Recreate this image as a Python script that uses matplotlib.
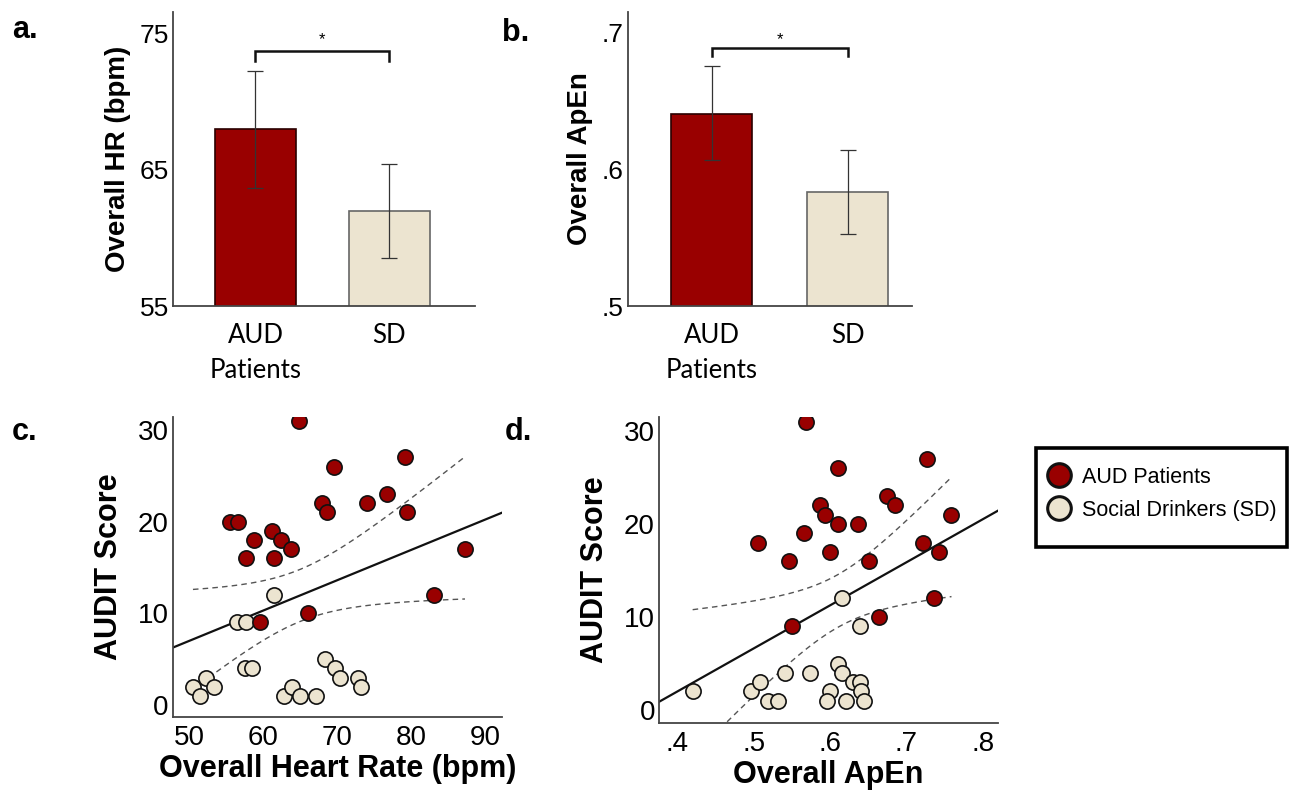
import numpy as np
import matplotlib.pyplot as plt
from matplotlib.lines import Line2D
from matplotlib.patches import Rectangle

plt.rcParams["font.family"] = ["Liberation Sans", "DejaVu Sans"]

# bar panels (a, b)
groups = ["AUD\nPatients", "SD"]
hr_means = [68.0, 62.0]
hr_ci_low = [63.7, 58.5]
hr_ci_high = [72.3, 65.4]
apen_means = [0.641, 0.5835]
apen_ci_low = [0.607, 0.553]
apen_ci_high = [0.676, 0.614]

# panel c: heart rate vs AUDIT
aud_hr = [64.9, 69.6, 79.2, 67.9, 68.7, 74.1, 76.8, 79.4, 55.5, 56.6,
          58.8, 61.2, 62.4, 63.7, 57.7, 61.5, 87.3, 83.1, 66.0, 59.6]
aud_audit_c = [31, 26, 27, 22, 21, 22, 23, 21, 20, 20,
               18, 19, 18, 17, 16, 16, 17, 12, 10, 9]
sd_hr = [61.4, 56.4, 57.7, 57.6, 58.5, 50.5, 52.2, 53.4, 51.5,
         62.8, 63.9, 65.0, 67.2, 68.3, 69.7, 70.4, 72.8, 73.3]
sd_audit_c = [12, 9, 9, 4, 4, 2, 3, 2, 1, 1, 2, 1, 1, 5, 4, 3, 3, 2]

# panel d: ApEn vs AUDIT
aud_apen = [0.568, 0.611, 0.727, 0.587, 0.593, 0.674, 0.685, 0.759, 0.611, 0.636,
            0.566, 0.506, 0.722, 0.546, 0.600, 0.651, 0.743, 0.736, 0.664, 0.550]
aud_audit_d = [31, 26, 27, 22, 21, 23, 22, 21, 20, 20,
               19, 18, 18, 16, 17, 16, 17, 12, 10, 9]
sd_apen = [0.615, 0.639, 0.420, 0.497, 0.508, 0.519, 0.532, 0.541, 0.574,
           0.610, 0.616, 0.630, 0.639, 0.600, 0.640, 0.596, 0.621, 0.644]
sd_audit_d = [12, 9, 2, 2, 3, 1, 1, 4, 4, 5, 4, 3, 3, 2, 2, 1, 1, 1]

RED = "#990000"
BEIGE = "#ECE4D0"
SPINE = "#444444"

fig = plt.figure(figsize=(12.9, 7.97), dpi=100)


def bar_panel(rect, means, lo, hi, ylim, yticks, yticklabels, ylabel, xlim, bracket, star_y):
    ax = fig.add_axes(rect)
    x = np.arange(len(means))
    err = [np.array(means) - np.array(lo), np.array(hi) - np.array(means)]
    ax.bar(x, means, width=0.6, bottom=0, color=[RED, BEIGE],
           edgecolor=["#2a0000", "#666666"], linewidth=1.2, zorder=2)
    ax.errorbar(x, means, yerr=err, fmt="none", ecolor="#333333",
                elinewidth=0.9, capsize=6, capthick=0.9, zorder=3)
    ax.set_ylim(*ylim)
    ax.set_xlim(*xlim)
    ax.set_yticks(yticks)
    ax.set_yticklabels(yticklabels)
    ax.set_xticks(x)
    ax.set_xticklabels(groups, family=["Lato", "DejaVu Sans"], fontsize=18.5,
                       linespacing=1.5)
    ax.tick_params(axis="y", length=0, pad=3, labelsize=19)
    ax.tick_params(axis="x", length=0, pad=12)
    ax.set_ylabel(ylabel, fontsize=20, fontweight="bold", labelpad=6)
    for s in ["top", "right"]:
        ax.spines[s].set_visible(False)
    for s in ["left", "bottom"]:
        ax.spines[s].set_color(SPINE)
        ax.spines[s].set_linewidth(1.3)
    b_top, b_bot = bracket
    ax.plot([0, 0, 1, 1], [b_bot, b_top, b_top, b_bot], color="#111111",
            lw=1.8, solid_joinstyle="miter", clip_on=False)
    ax.text(0.5, star_y, "*", ha="center", va="center", fontsize=12)
    return ax


bar_panel([0.1341, 0.616, 0.234, 0.369], hr_means, hr_ci_low, hr_ci_high,
          (55, 76.6), [55, 65, 75], ["55", "65", "75"], "Overall HR (bpm)",
          (-0.616, 1.638), (73.7, 73.0), 74.6)
bar_panel([0.4868, 0.616, 0.2202, 0.369], apen_means, apen_ci_low, apen_ci_high,
          (0.5, 0.7154), [0.5, 0.6, 0.7], [".5", ".6", ".7"], "Overall ApEn",
          (-0.614, 1.474), (0.689, 0.683), 0.695)


def scatter_panel(rect, ax_aud, ay_aud, ax_sd, ay_sd, xlim, ylim, xticks, xticklabels, xlabel):
    ax = fig.add_axes(rect)
    xs = np.array(ax_aud + ax_sd)
    ys = np.array(ay_aud + ay_sd, dtype=float)
    slope, icpt = np.polyfit(xs, ys, 1)
    n = len(xs)
    resid = ys - (slope * xs + icpt)
    s = np.sqrt(np.sum(resid ** 2) / (n - 2))
    sxx = np.sum((xs - xs.mean()) ** 2)
    xl = np.linspace(xlim[0], xlim[1], 200)
    ax.plot(xl, slope * xl + icpt, color="#111111", lw=1.6, zorder=2)
    xc = np.linspace(xs.min(), xs.max(), 200)
    half = 2.03 * s * np.sqrt(1 / n + (xc - xs.mean()) ** 2 / sxx)
    yc = slope * xc + icpt
    ax.plot(xc, yc + half, color="#555555", lw=1.0, ls=(0, (4, 3)), zorder=2)
    ax.plot(xc, yc - half, color="#555555", lw=1.0, ls=(0, (4, 3)), zorder=2)
    ax.scatter(ax_sd, ay_sd, s=120, color=BEIGE, edgecolor="#111111", linewidth=1.2, zorder=3)
    ax.scatter(ax_aud, ay_aud, s=120, color=RED, edgecolor="#111111", linewidth=1.2, zorder=3)
    ax.set_xlim(*xlim)
    ax.set_ylim(*ylim)
    ax.set_xticks(xticks)
    ax.set_xticklabels(xticklabels)
    ax.set_yticks([0, 10, 20, 30])
    ax.tick_params(length=0, labelsize=20)
    ax.tick_params(axis="y", pad=3)
    ax.tick_params(axis="x", pad=6)
    ax.set_xlabel(xlabel, fontsize=22, fontweight="bold", labelpad=2)
    ax.set_ylabel("AUDIT Score", fontsize=22, fontweight="bold", labelpad=10)
    for sp in ["top", "right"]:
        ax.spines[sp].set_visible(False)
    for sp in ["left", "bottom"]:
        ax.spines[sp].set_color(SPINE)
        ax.spines[sp].set_linewidth(1.3)
    return ax


scatter_panel([0.1341, 0.1004, 0.255, 0.3764], aud_hr, aud_audit_c, sd_hr, sd_audit_c,
              (47.8, 92.3), (-1.3, 31.4), [50, 60, 70, 80, 90],
              ["50", "60", "70", "80", "90"], "Overall Heart Rate (bpm)")
scatter_panel([0.5109, 0.0928, 0.2628, 0.384], aud_apen, aud_audit_d, sd_apen, sd_audit_d,
              (0.376, 0.82), (-1.4, 31.5), [0.4, 0.5, 0.6, 0.7, 0.8],
              [".4", ".5", ".6", ".7", ".8"], "Overall ApEn")

# panel letters
for lx, ly, t in [(12, 30, "a."), (502, 33, "b."), (12, 432, "c."), (505, 432, "d.")]:
    fig.text(lx / 1290, 1 - ly / 797, t, fontsize=22, fontweight="bold", va="center")

# legend: box drawn separately so the padding matches
fig.patches.append(Rectangle((1036 / 1290, 1 - 547 / 797), 251 / 1290, 99 / 797,
                             transform=fig.transFigure, fill=False,
                             edgecolor="black", linewidth=2.6))
handles = [
    Line2D([], [], marker="o", ls="none", markersize=17, markerfacecolor=RED,
           markeredgecolor="#111111", markeredgewidth=2.2),
    Line2D([], [], marker="o", ls="none", markersize=17, markerfacecolor=BEIGE,
           markeredgecolor="#111111", markeredgewidth=2.2),
]
fig.legend(handles, ["AUD Patients", "Social Drinkers (SD)"],
           loc="center left", bbox_to_anchor=(1046 / 1290, 1 - 494 / 797),
           fontsize=15.5, frameon=False, handletextpad=0.45,
           borderpad=0, labelspacing=0.56, handlelength=1.2,
           borderaxespad=0)

fig.savefig("out.png", dpi=100)
